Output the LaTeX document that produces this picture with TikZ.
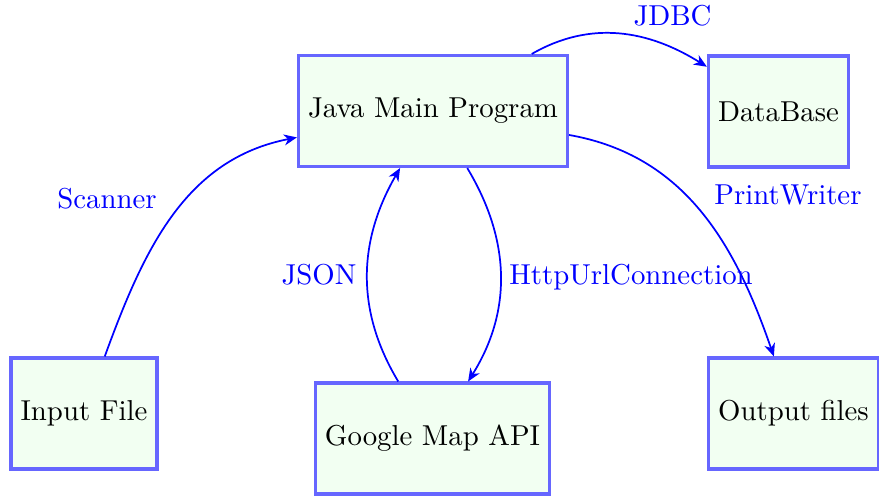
\documentclass[tikz,border=0pt]{standalone}
\usetikzlibrary{arrows.meta}
\begin{document}
\begin{tikzpicture}[x=0.3472pt,y=0.3472pt,
  box/.style={draw=blue!60, fill=green!5, line width=1.1pt,
              minimum height=38.5pt, inner xsep=3.33pt},
  flow/.style={draw=blue, line width=0.6pt,
               -{Stealth[length=4.5pt,width=3.8pt,inset=1.4pt]}},
  lbl/.style={text=blue, anchor=base, inner sep=0pt}]
\useasboundingbox (0,0) rectangle (879,496);

% components
\node[box] (java)   at (433,385)    {Java Main Program};
\node[box] (db)     at (778.5,384.5) {DataBase};
\node[box] (input)  at (84,82.5)    {Input File};
\node[box] (google) at (432.5,57.5) {Google Map API};
\node[box] (output) at (793.5,82.5) {Output files};

% data flow
\draw[flow] (input)  to[out=70, in=191] (java);
\draw[flow] (java)   to[out=30, in=148] (db);
\draw[flow] (java)   to[out=-10,in=109] (output);
\draw[flow] (java)   to[out=-59,in=58]  (google);
\draw[flow] (google) to[out=121,in=240] (java);

% connector labels
\node[lbl] (lscan)  at (107,288)   {Scanner};
\node[lbl] (ljdbc)  at (672.5,471) {JDBC};
\node[lbl] (lprint) at (788,292)   {PrintWriter};
\node[lbl] (lhttp)  at (631,212)   {HttpUrlConnection};
\node[lbl] (ljson)  at (319,212)   {JSON};
\end{tikzpicture}
\end{document}
